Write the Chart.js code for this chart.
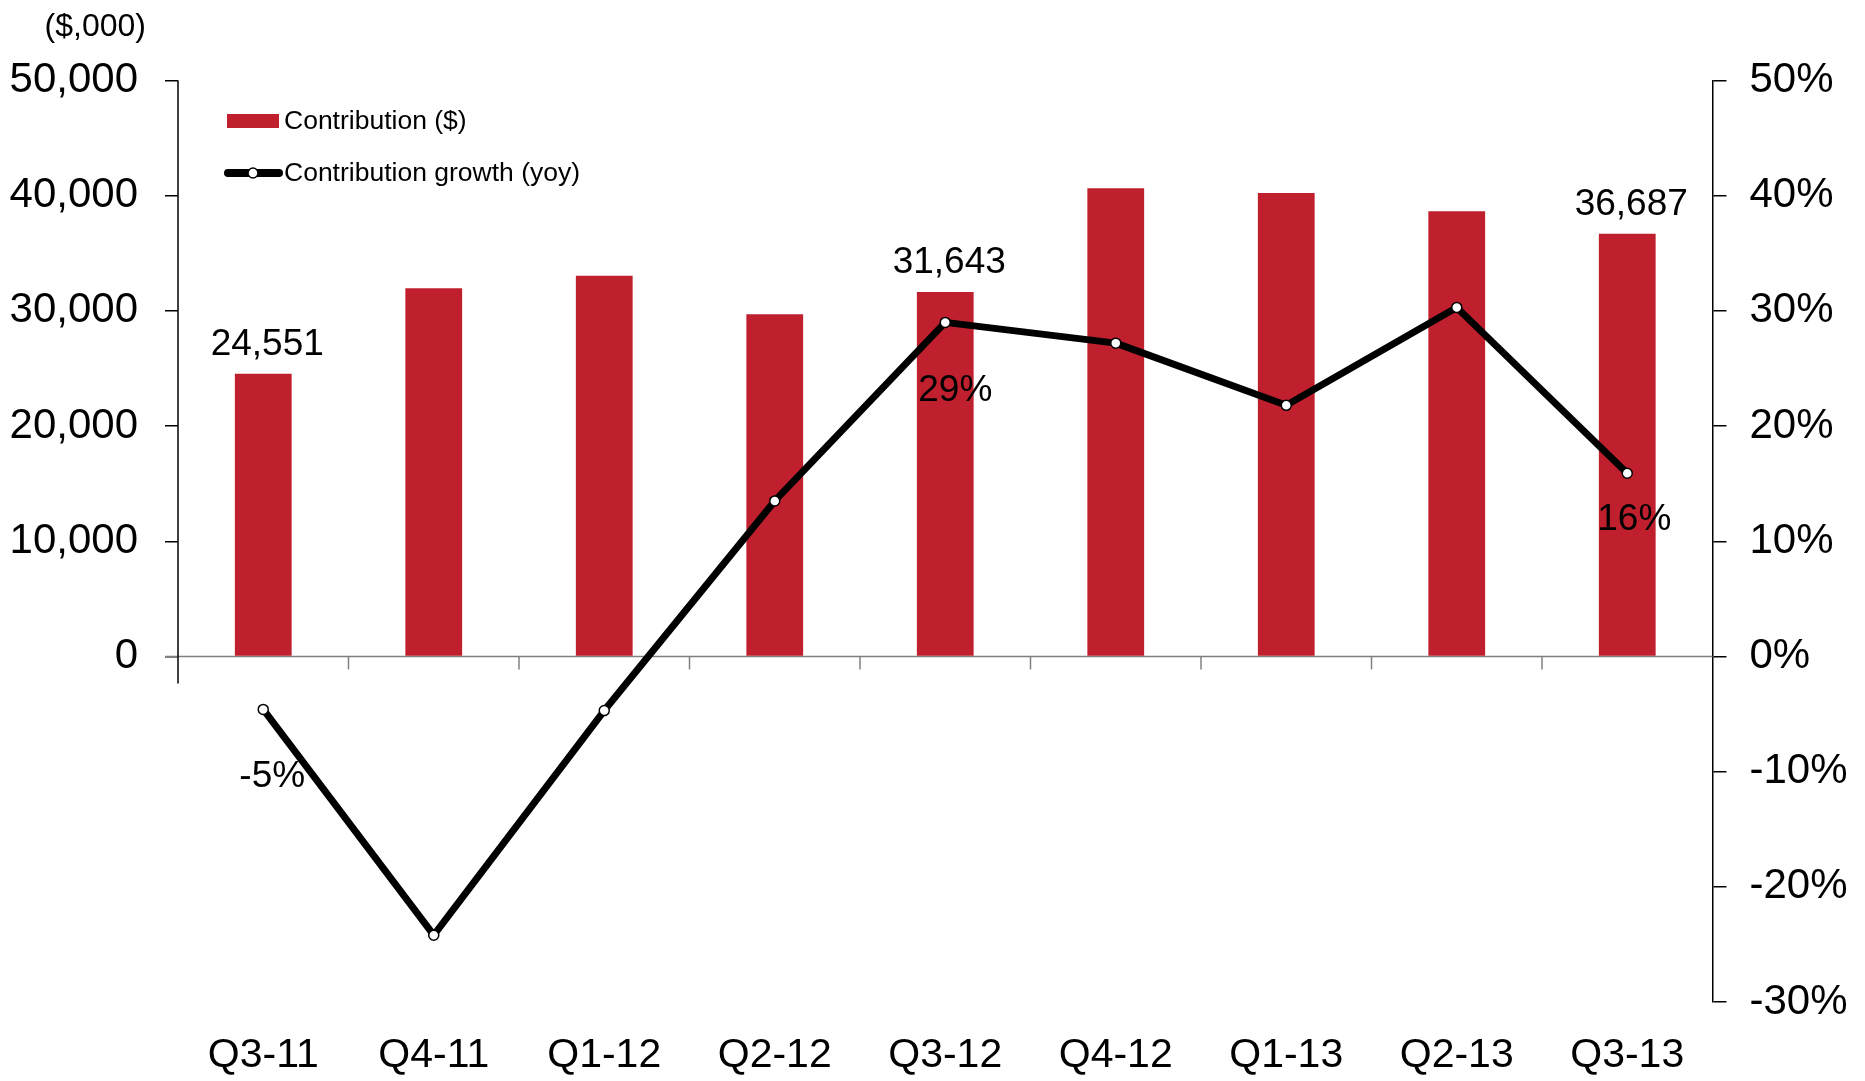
<!DOCTYPE html>
<html>
<head>
<meta charset="utf-8">
<script src="https://cdn.jsdelivr.net/npm/chart.js@4.4.1/dist/chart.umd.min.js"></script>
<style>
  html, body { margin: 0; padding: 0; background: #fff; }
  #wrap { width: 1865px; height: 1081px; position: relative; }
</style>
</head>
<body>
<div id="wrap"><canvas id="chart"></canvas></div>
<script>
const quarters = ['Q3-11', 'Q4-11', 'Q1-12', 'Q2-12', 'Q3-12', 'Q4-12', 'Q1-13', 'Q2-13', 'Q3-13'];
const contribution = [24551, 31960, 33060, 29700, 31643, 40650, 40240, 38650, 36687];
const growth = [-4.6, -24.2, -4.7, 13.5, 29.0, 27.2, 21.8, 30.3, 15.9];
const leftTicks = [0, 10000, 20000, 30000, 40000, 50000];
const rightTicks = [-30, -20, -10, 0, 10, 20, 30, 40, 50];
// which points get a value label
const barLabelIdx = [0, 4, 8];
const growthLabelIdx = [0, 4, 8];

const FONT = "'Liberation Sans', Arial, sans-serif";
const RED = '#C0202E';

// label offsets (px) for the growth labels: [dx, baseline below point]
const growthLabelOffset = [[9, 78], [10, 79], [7, 57]];

const decor = {
    id: 'decor',
    beforeDatasetsDraw(chart) {
        const ctx = chart.ctx;
        const x = chart.scales.x;
        const y = chart.scales.y;
        const area = chart.chartArea;
        const zero = y.getPixelForValue(0);
        ctx.save();
        // zero line
        ctx.strokeStyle = '#808080';
        ctx.lineWidth = 1.5;
        ctx.beginPath();
        ctx.moveTo(area.left - 13, zero);
        ctx.lineTo(area.right, zero);
        ctx.stroke();
        // category divider ticks
        for (let i = 1; i < quarters.length; i++) {
            const px = (x.getPixelForValue(i - 1) + x.getPixelForValue(i)) / 2;
            ctx.beginPath();
            ctx.moveTo(px, zero);
            ctx.lineTo(px, zero + 13);
            ctx.stroke();
        }
        // left axis line
        ctx.strokeStyle = '#000';
        ctx.lineWidth = 1.5;
        ctx.beginPath();
        ctx.moveTo(area.left, y.getPixelForValue(leftTicks[leftTicks.length - 1]));
        ctx.lineTo(area.left, zero + 27);
        ctx.stroke();
        ctx.restore();
    },
    afterDatasetsDraw(chart) {
        const ctx = chart.ctx;
        const bars = chart.getDatasetMeta(0).data;
        const pts = chart.getDatasetMeta(1).data;
        ctx.save();
        ctx.fillStyle = '#000';
        ctx.font = '37px ' + FONT;
        ctx.textAlign = 'center';
        ctx.textBaseline = 'alphabetic';
        barLabelIdx.forEach(i => {
            ctx.fillText(contribution[i].toLocaleString('en-US'), bars[i].x + 4, bars[i].y - 19);
        });
        growthLabelIdx.forEach((i, k) => {
            const [dx, dy] = growthLabelOffset[k];
            ctx.fillText(Math.round(growth[i]) + '%', pts[i].x + dx, pts[i].y + dy);
        });

        // unit label
        ctx.font = '32px ' + FONT;
        ctx.textAlign = 'right';
        ctx.textBaseline = 'middle';
        ctx.fillText('($,000)', 146, 27);

        // legend
        ctx.font = '26.5px ' + FONT;
        ctx.textAlign = 'left';
        ctx.fillStyle = RED;
        ctx.fillRect(227, 114, 52, 14);
        ctx.fillStyle = '#000';
        ctx.fillText('Contribution ($)', 284, 122);
        ctx.strokeStyle = '#000';
        ctx.lineWidth = 8;
        ctx.lineCap = 'round';
        ctx.beginPath();
        ctx.moveTo(228, 173);
        ctx.lineTo(279, 173);
        ctx.stroke();
        ctx.fillStyle = '#fff';
        ctx.lineWidth = 1.5;
        ctx.beginPath();
        ctx.arc(253, 173, 5, 0, Math.PI * 2);
        ctx.fill();
        ctx.stroke();
        ctx.fillStyle = '#000';
        ctx.fillText('Contribution growth (yoy)', 284, 174);
        ctx.restore();
    }
};

new Chart(document.getElementById('chart'), {
    data: {
        labels: quarters,
        datasets: [
            {
                type: 'bar',
                label: 'Contribution ($)',
                data: contribution,
                backgroundColor: RED,
                borderWidth: 0,
                barPercentage: 0.333,
                categoryPercentage: 1,
                yAxisID: 'y',
                order: 1
            },
            {
                type: 'line',
                label: 'Contribution growth (yoy)',
                data: growth,
                borderColor: '#000',
                borderWidth: 7,
                borderJoinStyle: 'round',
                pointRadius: 5,
                pointBackgroundColor: '#fff',
                pointBorderColor: '#000',
                pointBorderWidth: 1.5,
                tension: 0,
                yAxisID: 'y1',
                order: 0
            }
        ]
    },
    options: {
        responsive: true,
        maintainAspectRatio: false,
        animation: false,
        layout: { padding: { top: 80.5, left: 0, right: 0, bottom: 0 } },
        plugins: { legend: { display: false }, tooltip: { enabled: false } },
        scales: {
            x: {
                type: 'category',
                position: 'bottom',
                grid: { display: false, drawTicks: false },
                border: { display: false },
                ticks: { color: '#000', font: { family: FONT, size: 41 }, padding: 29, maxRotation: 0 },
                afterFit(scale) { scale.height = 79; }
            },
            y: {
                position: 'left',
                min: -30000,
                max: leftTicks[leftTicks.length - 1],
                afterBuildTicks(scale) {
                    scale.ticks = [-30000, -20000, -10000].concat(leftTicks).map(v => ({ value: v }));
                },
                grid: {
                    drawOnChartArea: false,
                    drawTicks: true,
                    tickLength: 13,
                    lineWidth: 1.5,
                    color: c => (c.tick && c.tick.value < 0) ? 'rgba(0,0,0,0)' : '#000'
                },
                border: { display: false },
                ticks: {
                    color: '#000',
                    font: { family: FONT, size: 42 },
                    padding: 27,
                    callback: v => v < 0 ? '' : v.toLocaleString('en-US')
                },
                afterFit(scale) { scale.width = 178; }
            },
            y1: {
                position: 'right',
                min: rightTicks[0],
                max: rightTicks[rightTicks.length - 1],
                afterBuildTicks(scale) {
                    scale.ticks = rightTicks.map(v => ({ value: v }));
                },
                grid: { drawOnChartArea: false, drawTicks: true, tickLength: 14, lineWidth: 1.5, color: '#000' },
                border: { display: true, color: '#000', width: 1.5 },
                ticks: {
                    color: '#000',
                    font: { family: FONT, size: 42 },
                    padding: 23,
                    callback: v => v + '%'
                },
                afterFit(scale) { scale.width = 152.5; }
            }
        }
    },
    plugins: [decor]
});
</script>
</body>
</html>
